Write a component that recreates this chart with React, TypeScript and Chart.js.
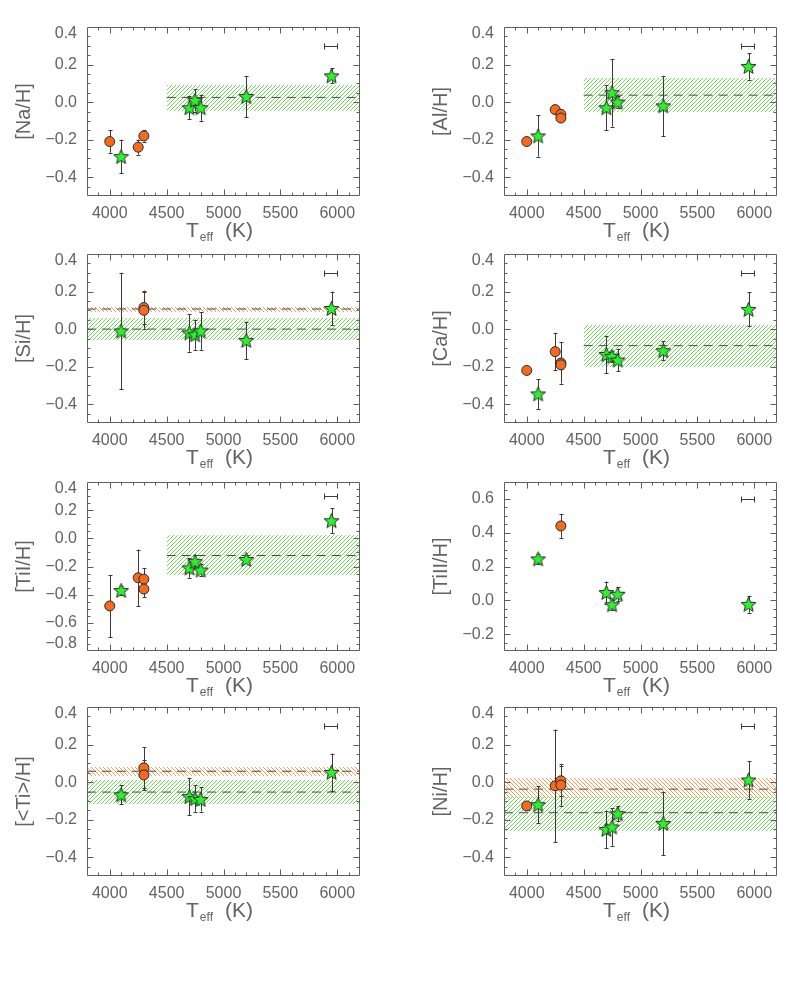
import { useEffect, useRef } from 'react';
import { Chart, registerables } from 'chart.js';

Chart.register(...registerables);

type Pt = [number, number, number];
type Band = { mean: number; lo: number; hi: number; from?: number };

// ---- axes ----
const X_MIN = 3800;
const X_MAX = 6200;
const X_TICKS = [4000, 4500, 5000, 5500, 6000];
const Y_RANGE_STD: [number, number] = [-0.5, 0.4];
const Y_TICKS_STD = [-0.4, -0.2, 0, 0.2, 0.4];
const Y_RANGE_TI1: [number, number] = [-0.8, 0.4];
const Y_TICKS_TI1 = [-0.8, -0.6, -0.4, -0.2, 0, 0.2, 0.4];
const Y_RANGE_TI2: [number, number] = [-0.3, 0.7];
const Y_TICKS_TI2 = [-0.2, 0, 0.2, 0.4, 0.6];

// typical Teff error (top-right bar)
const TEFF_ERR_CENTER = 5940;
const TEFF_ERR = 60;

// ---- data: [Teff, [X/H], error] ----
const NA_GIANTS: Pt[] = [[4000, -0.21, 0.06], [4250, -0.24, 0.04], [4300, -0.18, 0.03]];
const NA_DWARFS: Pt[] = [[4100, -0.29, 0.09], [4700, -0.03, 0.06], [4750, 0.01, 0.06], [4800, -0.03, 0.07], [5200, 0.03, 0.11], [5950, 0.14, 0.04]];
const NA_DWARF_BAND: Band = { mean: 0.025, lo: -0.046, hi: 0.093, from: 4500 };

const AL_GIANTS: Pt[] = [[4000, -0.21, 0.02], [4250, -0.04, 0.01], [4300, -0.065, 0.01], [4300, -0.085, 0.01]];
const AL_DWARFS: Pt[] = [[4100, -0.18, 0.11], [4700, -0.03, 0.12], [4750, 0.05, 0.18], [4800, 0.0, 0.03], [5200, -0.02, 0.16], [5950, 0.19, 0.07]];
const AL_DWARF_BAND: Band = { mean: 0.037, lo: -0.055, hi: 0.126, from: 4500 };

const SI_GIANTS: Pt[] = [[4300, 0.115, 0.09], [4300, 0.1, 0.1]];
const SI_DWARFS: Pt[] = [[4100, -0.01, 0.31], [4700, -0.02, 0.1], [4750, -0.03, 0.08], [4800, -0.01, 0.1], [5200, -0.06, 0.1], [5950, 0.11, 0.09]];
const SI_DWARF_BAND: Band = { mean: 0.0, lo: -0.059, hi: 0.059 };
const SI_GIANT_BAND: Band = { mean: 0.107, lo: 0.093, hi: 0.118 };

const CA_GIANTS: Pt[] = [[4000, -0.22, 0.02], [4250, -0.12, 0.1], [4300, -0.18, 0.11], [4300, -0.19, 0.02]];
const CA_DWARFS: Pt[] = [[4100, -0.345, 0.08], [4700, -0.135, 0.1], [4750, -0.145, 0.03], [4800, -0.165, 0.06], [5200, -0.115, 0.05], [5950, 0.105, 0.09]];
const CA_DWARF_BAND: Band = { mean: -0.088, lo: -0.2, hi: 0.021, from: 4500 };

const TI1_GIANTS: Pt[] = [[4000, -0.48, 0.22], [4250, -0.28, 0.2], [4300, -0.29, 0.08], [4300, -0.36, 0.06]];
const TI1_DWARFS: Pt[] = [[4100, -0.37, 0.03], [4700, -0.21, 0.07], [4750, -0.165, 0.05], [4800, -0.225, 0.04], [5200, -0.15, 0.02], [5950, 0.125, 0.09]];
const TI1_DWARF_BAND: Band = { mean: -0.122, lo: -0.263, hi: 0.022, from: 4500 };

const TI2_GIANTS: Pt[] = [[4300, 0.44, 0.07]];
const TI2_DWARFS: Pt[] = [[4100, 0.245, 0.03], [4700, 0.046, 0.065], [4750, -0.026, 0.03], [4800, 0.036, 0.04], [5950, -0.024, 0.05]];

const TI_GIANTS: Pt[] = [[4300, 0.076, 0.11], [4300, 0.038, 0.08]];
const TI_DWARFS: Pt[] = [[4100, -0.067, 0.05], [4700, -0.077, 0.1], [4750, -0.088, 0.07], [4800, -0.092, 0.065], [5950, 0.052, 0.1]];
const TI_GIANT_BAND: Band = { mean: 0.058, lo: 0.034, hi: 0.081 };
const TI_DWARF_BAND: Band = { mean: -0.053, lo: -0.115, hi: 0.009 };

const NI_GIANTS: Pt[] = [[4000, -0.127, 0.02], [4250, -0.02, 0.3], [4300, 0.007, 0.08], [4300, -0.016, 0.11]];
const NI_DWARFS: Pt[] = [[4100, -0.12, 0.1], [4700, -0.252, 0.1], [4750, -0.239, 0.1], [4800, -0.168, 0.04], [5200, -0.22, 0.17], [5950, 0.011, 0.1]];
const NI_GIANT_BAND: Band = { mean: -0.0375, lo: -0.09, hi: 0.02 };
const NI_DWARF_BAND: Band = { mean: -0.163, lo: -0.26, hi: -0.073 };

type PanelCfg = {
  title: string;
  giants: Pt[];
  dwarfs: Pt[];
  giantBand?: Band;
  dwarfBand?: Band;
  yRange: [number, number];
  yTicks: number[];
  sampleY: number;
};

const PANELS: PanelCfg[] = [
  { title: '[Na/H]', giants: NA_GIANTS, dwarfs: NA_DWARFS, dwarfBand: NA_DWARF_BAND, yRange: Y_RANGE_STD, yTicks: Y_TICKS_STD, sampleY: 0.3 },
  { title: '[Al/H]', giants: AL_GIANTS, dwarfs: AL_DWARFS, dwarfBand: AL_DWARF_BAND, yRange: Y_RANGE_STD, yTicks: Y_TICKS_STD, sampleY: 0.3 },
  { title: '[Si/H]', giants: SI_GIANTS, dwarfs: SI_DWARFS, dwarfBand: SI_DWARF_BAND, giantBand: SI_GIANT_BAND, yRange: Y_RANGE_STD, yTicks: Y_TICKS_STD, sampleY: 0.3 },
  { title: '[Ca/H]', giants: CA_GIANTS, dwarfs: CA_DWARFS, dwarfBand: CA_DWARF_BAND, yRange: Y_RANGE_STD, yTicks: Y_TICKS_STD, sampleY: 0.3 },
  { title: '[TiI/H]', giants: TI1_GIANTS, dwarfs: TI1_DWARFS, dwarfBand: TI1_DWARF_BAND, yRange: Y_RANGE_TI1, yTicks: Y_TICKS_TI1, sampleY: 0.3 },
  { title: '[TiII/H]', giants: TI2_GIANTS, dwarfs: TI2_DWARFS, yRange: Y_RANGE_TI2, yTicks: Y_TICKS_TI2, sampleY: 0.6 },
  { title: '[<Ti>/H]', giants: TI_GIANTS, dwarfs: TI_DWARFS, dwarfBand: TI_DWARF_BAND, giantBand: TI_GIANT_BAND, yRange: Y_RANGE_STD, yTicks: Y_TICKS_STD, sampleY: 0.3 },
  { title: '[Ni/H]', giants: NI_GIANTS, dwarfs: NI_DWARFS, dwarfBand: NI_DWARF_BAND, giantBand: NI_GIANT_BAND, yRange: Y_RANGE_STD, yTicks: Y_TICKS_STD, sampleY: 0.3 },
];

// ---- layout & style ----
const COL_LEFT = [0, 417];
const ROW_TOP = [0, 227, 455, 680];
const CANVAS_W = 369;
const CANVAS_H = 250;
const AREA_LEFT = 87;
const AREA_TOP = 27;
const AREA_RIGHT = 362;
const AREA_BOTTOM = 196;
const END_LABEL_SHIFT = 7; // px: end labels pulled inside the frame, as in the original
const FONT = "'Liberation Sans', Arial, sans-serif";
const TEXT = '#636363';
const FRAME = '#5e5e5e';
const ORANGE = '#f46a1e';
const GREEN = '#2cf22c';
const MARK_EDGE = '#2a2a2a';
const ERR_COLOR = '#3a3a3a';
const DASH_COLOR = '#4a4a4a';
const GREEN_HATCH = '#6fdc5a';
const ORANGE_HATCH = '#ff9a55';

const mod4 = (n: number) => ((n % 4) + 4) % 4;

// hatch tile aligned to page coordinates so every panel shows the same phase
function makeHatch(ctx: CanvasRenderingContext2D, color: string, dir: '/' | '\\', offX: number, offY: number) {
  const t = document.createElement('canvas');
  t.width = 4;
  t.height = 4;
  const g = t.getContext('2d')!;
  g.fillStyle = color;
  for (let i = 0; i < 4; i++) {
    const x = dir === '/' ? mod4(-(i + offX + offY)) : mod4(i + offY - offX);
    g.fillRect(x, i, 1, 1);
  }
  return ctx.createPattern(t, 'repeat')!;
}

function makeStar(): HTMLCanvasElement {
  const s = 17;
  const c = document.createElement('canvas');
  c.width = s;
  c.height = s;
  const g = c.getContext('2d')!;
  const cx = s / 2;
  const cy = s / 2 + 0.6;
  const R = 7.8;
  const r = 3.4;
  g.beginPath();
  for (let i = 0; i < 10; i++) {
    const a = -Math.PI / 2 + (i * Math.PI) / 5;
    const rad = i % 2 === 0 ? R : r;
    const px = cx + rad * Math.cos(a);
    const py = cy + rad * Math.sin(a);
    if (i === 0) g.moveTo(px, py);
    else g.lineTo(px, py);
  }
  g.closePath();
  g.fillStyle = GREEN;
  g.fill();
  g.lineWidth = 1;
  g.strokeStyle = MARK_EDGE;
  g.stroke();
  return c;
}

const fmtY = (v: number) => (Math.abs(v) < 1e-9 ? '0.0' : v.toFixed(1).replace('-', '\u2212'));

const errorBarPlugin = {
  id: 'errbars',
  beforeDatasetDraw(chart: any, args: any) {
    const ds = chart.data.datasets[args.index];
    if (!ds.errMode) return;
    const { ctx } = chart;
    const xs = chart.scales.x;
    const ys = chart.scales.y;
    ctx.save();
    ctx.strokeStyle = ERR_COLOR;
    ctx.lineWidth = 1;
    ds.data.forEach((p: any) => {
      ctx.beginPath();
      if (ds.errMode === 'y') {
        const px = Math.round(xs.getPixelForValue(p.x)) + 0.5;
        const y1 = ys.getPixelForValue(p.y - p.e);
        const y2 = ys.getPixelForValue(p.y + p.e);
        ctx.moveTo(px, y1);
        ctx.lineTo(px, y2);
        ctx.moveTo(px - 2, Math.round(y1) + 0.5);
        ctx.lineTo(px + 2, Math.round(y1) + 0.5);
        ctx.moveTo(px - 2, Math.round(y2) + 0.5);
        ctx.lineTo(px + 2, Math.round(y2) + 0.5);
      } else {
        const py = Math.round(ys.getPixelForValue(p.y)) + 0.5;
        const x1 = Math.round(xs.getPixelForValue(p.x - p.e)) + 0.5;
        const x2 = Math.round(xs.getPixelForValue(p.x + p.e)) + 0.5;
        ctx.moveTo(x1, py);
        ctx.lineTo(x2, py);
        ctx.moveTo(x1, py - 3);
        ctx.lineTo(x1, py + 3);
        ctx.moveTo(x2, py - 3);
        ctx.lineTo(x2, py + 3);
      }
      ctx.stroke();
    });
    ctx.restore();
  },
};

function makeBandPlugin(cfg: PanelCfg, offX: number, offY: number) {
  return {
    id: 'bands',
    beforeDatasetsDraw(chart: any) {
      const { ctx } = chart;
      const xs = chart.scales.x;
      const ys = chart.scales.y;
      const draw = (b: Band | undefined, color: string, dir: '/' | '\\') => {
        if (!b) return;
        const x1 = Math.round(xs.getPixelForValue(b.from ?? X_MIN));
        const x2 = Math.round(xs.getPixelForValue(X_MAX));
        const y1 = Math.round(ys.getPixelForValue(b.hi));
        const y2 = Math.round(ys.getPixelForValue(b.lo));
        ctx.save();
        ctx.fillStyle = makeHatch(ctx, color, dir, offX, offY);
        ctx.fillRect(x1, y1, x2 - x1, y2 - y1);
        ctx.restore();
      };
      draw(cfg.giantBand, ORANGE_HATCH, '\\');
      draw(cfg.dwarfBand, GREEN_HATCH, '/');
    },
  };
}

const framePlugin = {
  id: 'idlframe',
  afterDatasetsDraw(chart: any) {
    const { ctx, chartArea: a } = chart;
    const xs = chart.scales.x;
    const ys = chart.scales.y;
    ctx.save();
    ctx.strokeStyle = FRAME;
    ctx.lineWidth = 1;
    const L = Math.round(a.left) + 0.5;
    const R = Math.round(a.right) - 0.5;
    const T = Math.round(a.top) + 0.5;
    const B = Math.round(a.bottom) - 0.5;
    ctx.beginPath();
    ctx.rect(L, T, R - L, B - T);
    ctx.stroke();
    ctx.beginPath();
    for (let t = X_MIN + 100; t < X_MAX; t += 100) {
      const px = Math.round(xs.getPixelForValue(t)) + 0.5;
      const len = t % 500 === 0 ? 6 : 3;
      ctx.moveTo(px, B);
      ctx.lineTo(px, B - len);
      ctx.moveTo(px, T);
      ctx.lineTo(px, T + len);
    }
    const k0 = Math.ceil(ys.min / 0.05 - 1e-6);
    const k1 = Math.floor(ys.max / 0.05 + 1e-6);
    for (let k = k0; k <= k1; k++) {
      const v = k * 0.05;
      if (Math.abs(v - ys.min) < 1e-6 || Math.abs(v - ys.max) < 1e-6) continue;
      const py = Math.round(ys.getPixelForValue(v)) + 0.5;
      const len = k % 4 === 0 ? 6 : 3;
      ctx.moveTo(L, py);
      ctx.lineTo(L + len, py);
      ctx.moveTo(R, py);
      ctx.lineTo(R - len, py);
    }
    ctx.stroke();
    ctx.restore();
  },
  afterDraw(chart: any) {
    const { ctx, chartArea: a } = chart;
    ctx.save();
    ctx.fillStyle = TEXT;
    ctx.textBaseline = 'alphabetic';
    const big = `21px ${FONT}`;
    const small = `12px ${FONT}`;
    ctx.font = big;
    const wT = ctx.measureText('T').width;
    const wK = ctx.measureText('(K)').width;
    ctx.font = small;
    const wE = ctx.measureText('eff').width;
    const gap = 12;
    const total = wT + 1 + wE + gap + wK;
    let x = (a.left + a.right) / 2 - total / 2 - 4;
    const base = a.bottom + 41;
    ctx.font = big;
    ctx.fillText('T', x, base);
    x += wT + 1;
    ctx.font = small;
    ctx.fillText('eff', x, base + 4);
    x += wE + gap;
    ctx.font = big;
    ctx.fillText('(K)', x, base);
    ctx.restore();
  },
};

function Panel({ cfg, left, top }: { cfg: PanelCfg; left: number; top: number }) {
  const ref = useRef<HTMLCanvasElement>(null);
  useEffect(() => {
    const canvas = ref.current!;
    const star = makeStar();
    const toPts = (arr: Pt[]) => arr.map(([x, y, e]) => ({ x, y, e }));

    const datasets: any[] = [
      {
        label: 'dwarfs',
        data: toPts(cfg.dwarfs),
        errMode: 'y',
        pointStyle: star,
        pointRadius: 8,
        backgroundColor: GREEN,
        borderColor: MARK_EDGE,
        showLine: false,
      },
      {
        label: 'giants',
        data: toPts(cfg.giants),
        errMode: 'y',
        pointStyle: 'circle',
        pointRadius: 5,
        backgroundColor: ORANGE,
        borderColor: MARK_EDGE,
        borderWidth: 1,
        showLine: false,
      },
      {
        label: 'teff error',
        data: [{ x: TEFF_ERR_CENTER, y: cfg.sampleY, e: TEFF_ERR }],
        errMode: 'x',
        pointRadius: 0,
        backgroundColor: ERR_COLOR,
        borderColor: ERR_COLOR,
        showLine: false,
      },
    ];
    const addMean = (b: Band | undefined) => {
      if (!b) return;
      datasets.push({
        type: 'line',
        label: 'mean',
        data: [{ x: b.from ?? X_MIN, y: b.mean }, { x: X_MAX, y: b.mean }],
        borderColor: DASH_COLOR,
        backgroundColor: DASH_COLOR,
        borderWidth: 1,
        borderDash: [9, 6],
        pointRadius: 0,
        fill: false,
      });
    };
    addMean(cfg.dwarfBand);
    addMean(cfg.giantBand);

    const yLabels = cfg.yTicks.map(fmtY);
    const [yMin, yMax] = cfg.yRange;
    const pxPerUnit = (AREA_BOTTOM - AREA_TOP) / (yMax - yMin);
    const labelPos = cfg.yTicks.map((v) => {
      if (Math.abs(v - yMax) < 1e-9) return v - END_LABEL_SHIFT / pxPerUnit;
      if (Math.abs(v - yMin) < 1e-9) return v + END_LABEL_SHIFT / pxPerUnit;
      return v;
    });

    const chart = new Chart(canvas, {
      type: 'scatter',
      data: { datasets },
      plugins: [makeBandPlugin(cfg, left, top), errorBarPlugin, framePlugin],
      options: {
        responsive: false,
        animation: false,
        devicePixelRatio: 1,
        layout: { padding: { left: 0, top: AREA_TOP, right: CANVAS_W - AREA_RIGHT, bottom: 0 } },
        plugins: { legend: { display: false }, tooltip: { enabled: false } },
        scales: {
          x: {
            type: 'linear',
            position: 'bottom',
            min: X_MIN,
            max: X_MAX,
            afterBuildTicks: (s: any) => {
              s.ticks = X_TICKS.map((v) => ({ value: v }));
            },
            afterFit: (s: any) => {
              s.height = CANVAS_H - AREA_BOTTOM;
            },
            grid: { display: false, drawTicks: false },
            border: { display: false },
            ticks: {
              autoSkip: false,
              maxRotation: 0,
              padding: 8,
              color: TEXT,
              font: { family: FONT, size: 16 },
              callback: (v: any) => String(v),
            },
          },
          y: {
            type: 'linear',
            min: yMin,
            max: yMax,
            afterBuildTicks: (s: any) => {
              s.ticks = labelPos.map((v) => ({ value: v }));
            },
            afterFit: (s: any) => {
              s.width = AREA_LEFT;
            },
            grid: { display: false, drawTicks: false },
            border: { display: false },
            ticks: {
              autoSkip: false,
              padding: 10,
              color: TEXT,
              font: { family: FONT, size: 16 },
              callback: (_v: any, i: number) => yLabels[i],
            },
            title: {
              display: true,
              text: cfg.title,
              color: TEXT,
              font: { family: FONT, size: 20 },
              padding: { top: 12, bottom: 0 },
            },
          },
        },
      } as any,
    });
    return () => chart.destroy();
  }, [cfg, left, top]);
  return (
    <canvas
      ref={ref}
      width={CANVAS_W}
      height={CANVAS_H}
      style={{ position: 'absolute', left, top, width: CANVAS_W, height: CANVAS_H }}
    />
  );
}

export default function App() {
  return (
    <div style={{ position: 'absolute', left: 0, top: 0, width: 786, height: 984, background: '#fff' }}>
      {PANELS.map((cfg, i) => (
        <Panel key={i} cfg={cfg} left={COL_LEFT[i % 2]} top={ROW_TOP[Math.floor(i / 2)]} />
      ))}
    </div>
  );
}
